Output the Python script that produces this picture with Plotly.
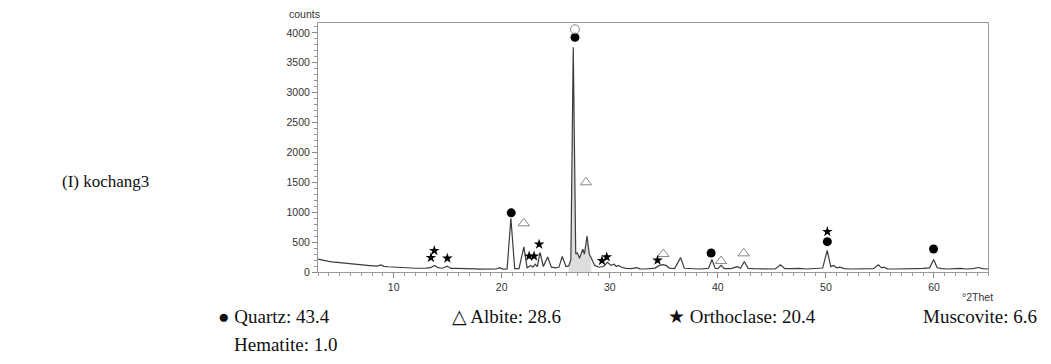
import plotly.graph_objects as go

# ---- XRD pattern ----
two_theta = [3.0, 3.2, 3.4, 3.6, 3.8, 4.0, 4.3, 4.5, 4.7, 5.0, 5.2, 5.4, 5.8, 6.0, 6.2, 6.6, 6.8, 7.0,
             7.4, 7.6, 7.8, 8.2, 8.5, 8.8, 9.1, 9.5, 9.8, 10.0, 10.3, 10.5, 11.0, 11.3, 11.5, 12.0,
             12.3, 12.5, 13.0, 13.4, 13.8, 14.1, 14.5, 14.95, 15.3, 15.8, 16.1,
             16.3, 16.7, 17.0, 17.5, 18.0, 18.3, 18.5, 19.0, 19.5, 19.8, 20.1, 20.5, 20.85, 21.2, 21.6,
             22.05, 22.35, 22.7, 22.9, 23.1, 23.3, 23.55, 23.85, 24.25, 24.6, 25.0, 25.3, 25.6, 25.95,
             26.2, 26.4, 26.62, 26.85, 27.0, 27.2, 27.5, 27.65, 27.9, 28.1, 28.3, 28.6, 29.0, 29.4,
             29.8, 30.1, 30.4, 30.6, 30.8, 31.1, 31.5, 32.0, 32.5, 32.8, 33.3, 33.8, 34.2, 34.6, 34.9,
             35.2, 35.5, 36.0, 36.55, 36.9, 37.3, 37.8, 38.3, 38.8, 39.15, 39.45, 39.75, 40.0, 40.3,
             40.6, 41.2, 41.8, 42.1, 42.45, 42.8, 43.3, 44.0, 44.6, 45.3, 45.8, 46.2, 46.8, 47.5, 48.2,
             48.8, 49.3, 49.7, 50.12, 50.45, 50.7, 51.0, 51.3, 51.7, 52.3, 53.0, 53.7, 54.4, 54.85,
             55.15, 55.35, 55.7, 56.3, 57.0, 57.7, 58.4, 59.0, 59.6, 59.97, 60.3, 60.7, 61.3, 62.0,
             62.5, 63.0, 63.6, 64.1, 64.5, 65.0]
counts = [215, 205, 196, 190, 182, 178, 170, 166, 160, 152, 150, 145, 138, 136, 130, 125, 122, 118,
          113, 112, 108, 102, 98, 118, 94, 88, 84, 78, 77, 74, 70, 69, 66, 63,
          63, 61, 64, 72, 108, 72, 63, 98, 60, 62, 58,
          56, 55, 53, 51, 49, 48, 46, 45, 50, 72, 48, 52, 900, 56, 56,
          420, 72, 110, 82, 130, 90, 330, 92, 250, 82, 70, 82, 260, 92,
          102, 205, 3760, 300, 320, 230, 380, 300, 600, 300, 230, 110, 80, 92,
          160, 110, 130, 92, 110, 80, 62, 56, 72, 52, 50, 56, 66, 112, 122,
          110, 66, 56, 240, 62, 56, 60, 50, 56, 62, 210, 62, 56, 110,
          56, 56, 90, 62, 175, 60, 56, 50, 56, 50, 120, 56, 56, 60, 50,
          56, 70, 66, 360, 90, 110, 70, 80, 56, 50, 56, 50, 56, 120,
          70, 80, 52, 50, 56, 50, 56, 60, 70, 210, 70, 56, 50, 56,
          60, 50, 56, 75, 56, 50]

# ---- phase markers ----
quartz_x = [20.88, 26.78, 39.38, 50.13, 59.96]
quartz_y = [990, 3925, 318, 508, 385]
albite_x = [22.04, 27.80, 34.95, 40.30, 42.40]
albite_y = [815, 1500, 300, 183, 312]
orthoclase_x = [13.45, 13.76, 14.97, 22.54, 23.00, 23.46, 29.28, 29.72, 34.42, 50.13]
orthoclase_y = [240, 357, 230, 265, 265, 463, 190, 250, 195, 675]
open_x = [26.78]
open_y = [4060]

legend_texts = ["● Quartz: 43.4", "△ Albite: 28.6", "★ Orthoclase: 20.4", "Muscovite: 6.6", "Hematite: 1.0"]
sample_label = "(I) kochang3"

# page body has an 8px margin; size the figure to fit inside the window
OFF = 8
W, H = 1051 - 2 * OFF, 364 - 2 * OFF
L, R, T, B = 318, 988, 23, 272   # plot area in window pixels

# light grey shading under the main quartz/albite cluster
shade_x = [x for x in two_theta if 26.2 <= x <= 28.4]
shade_y = [c for x, c in zip(two_theta, counts) if 26.2 <= x <= 28.4]

fig = go.Figure()
fig.add_trace(go.Scatter(x=shade_x, y=shade_y, mode="lines", line=dict(width=0),
                         fill="tozeroy", fillcolor="rgba(200,200,200,0.6)", hoverinfo="skip"))
fig.add_trace(go.Scatter(x=two_theta, y=counts, mode="lines",
                         line=dict(color="#3c3c3c", width=1.2), hoverinfo="skip"))
fig.add_trace(go.Scatter(x=quartz_x, y=quartz_y, mode="markers",
                         marker=dict(symbol="circle", size=9, color="black"), hoverinfo="skip"))
fig.add_trace(go.Scatter(x=albite_x, y=albite_y, mode="markers",
                         marker=dict(symbol="triangle-up-open", size=10, color="#888888",
                                     line=dict(width=1)), hoverinfo="skip"))
fig.add_trace(go.Scatter(x=orthoclase_x, y=orthoclase_y, mode="markers",
                         marker=dict(symbol="star", size=8, color="black"), hoverinfo="skip"))
fig.add_trace(go.Scatter(x=open_x, y=open_y, mode="markers",
                         marker=dict(symbol="circle-open", size=9, color="#888888",
                                     line=dict(width=1)), hoverinfo="skip"))

def px(xp):
    return (xp - L) / (R - L)

def py(yp):
    return (B - yp) / (B - T)

ann = [
    dict(text="counts", x=px(287), y=py(14), xanchor="left", yanchor="middle",
         font=dict(family="Liberation Sans, Arial", size=10.5, color="#333")),
    dict(text="°2Thet", x=px(960), y=py(297), xanchor="left", yanchor="middle",
         font=dict(family="Liberation Sans, Arial", size=10.5, color="#333")),
    dict(text=sample_label, x=px(60), y=py(181), xanchor="left", yanchor="middle",
         font=dict(family="Liberation Serif, Times New Roman", size=17, color="#111")),
]
legend_pos = [(216, 316), (450, 316), (666, 316), (921, 316), (232, 344)]
for t, (xx, yy) in zip(legend_texts, legend_pos):
    ann.append(dict(text=t, x=px(xx), y=py(yy), xanchor="left", yanchor="middle",
                    font=dict(family="Liberation Serif, Times New Roman, DejaVu Serif", size=19, color="#111")))
for a in ann:
    a.update(xref="paper", yref="paper", showarrow=False)

fig.update_layout(
    width=W, height=H,
    margin=dict(l=L - OFF, r=W - (R - OFF), t=T - OFF, b=H - (B - OFF)),
    paper_bgcolor="white", plot_bgcolor="white", showlegend=False,
    annotations=ann,
    xaxis=dict(range=[3, 65], tickvals=[10, 20, 30, 40, 50, 60], ticks="outside", ticklen=5,
               tickcolor="#888", showgrid=False, zeroline=False, showline=True, linecolor="#999",
               mirror=True, tickfont=dict(family="Liberation Sans, Arial", size=10.5, color="#333"),
               minor=dict(dtick=1, ticks="outside", ticklen=3, tickcolor="#999")),
    yaxis=dict(range=[0, 4165], dtick=500, ticks="outside", ticklen=5, tickcolor="#888",
               showgrid=False, zeroline=False, showline=True, linecolor="#999", mirror=True,
               tickfont=dict(family="Liberation Sans, Arial", size=10.5, color="#333"),
               minor=dict(dtick=100, ticks="outside", ticklen=3, tickcolor="#999")),
)
fig.write_html("out.html")
